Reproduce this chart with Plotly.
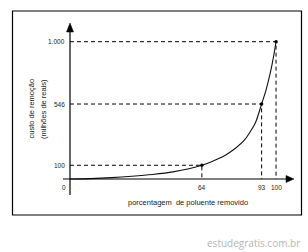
import plotly.graph_objects as go

# ---- data ----
pct = [0, 10, 20, 30, 40, 50, 64, 70, 75, 80, 85, 90, 93, 95, 97, 98, 99, 100]
cost = [0, 3, 10, 20, 33, 52, 100, 135, 170, 220, 290, 410, 546, 640, 760, 830, 910, 1000]
mark_x = [64, 93, 100]
mark_y = [100, 546, 1000]
x_tick_labels = ["64", "93", "100"]
y_tick_labels = ["100", "546", "1.000"]
x_title = "porcentagem  de poluente removido"
y_title = ["custo de remoção", "(milhões de reais)"]
watermark = "estudegratis.com.br"

W, H = 308, 252
def px(x): return x / W
def py(y): return 1 - y / H

FONT = "Liberation Sans"
TXT = "#1a1a1a"

fig = go.Figure()

# dashed guide lines
for xv, yv in zip(mark_x, mark_y):
    fig.add_trace(go.Scatter(x=[0, xv, xv], y=[yv, yv, 0], mode="lines",
                             line=dict(color="black", width=1, dash="4px,3px"),
                             hoverinfo="skip", showlegend=False))

# curve
fig.add_trace(go.Scatter(x=pct, y=cost, mode="lines",
                         line=dict(color="#111111", width=1.1, shape="spline", smoothing=0.6),
                         showlegend=False))
# marked points
fig.add_trace(go.Scatter(x=mark_x, y=mark_y, mode="markers",
                         marker=dict(color="black", size=3.5), showlegend=False))

shapes = []
# outer frame
shapes.append(dict(type="rect", xref="paper", yref="paper", x0=px(12.5), x1=px(301.5),
                   y0=py(215), y1=py(11), line=dict(color="black", width=1.2)))
# axes lines
shapes.append(dict(type="line", xref="paper", yref="paper", x0=px(70), x1=px(70),
                   y0=py(195), y1=py(30), line=dict(color="black", width=1.2)))
shapes.append(dict(type="line", xref="paper", yref="paper", x0=px(63), x1=px(287),
                   y0=py(179), y1=py(179), line=dict(color="black", width=1.2)))
# arrow heads
shapes.append(dict(type="path", xref="paper", yref="paper",
                   path=f"M {px(70)} {py(23)} L {px(66.5)} {py(32)} L {px(73.5)} {py(32)} Z",
                   fillcolor="black", line=dict(color="black", width=0.5)))
shapes.append(dict(type="path", xref="paper", yref="paper",
                   path=f"M {px(294)} {py(179)} L {px(286)} {py(175.5)} L {px(286)} {py(182.5)} Z",
                   fillcolor="black", line=dict(color="black", width=0.5)))

ann = []
# y tick labels
for v, t in zip(mark_y, y_tick_labels):
    ann.append(dict(x=px(66.5), y=v, xref="paper", yref="y", text=t, showarrow=False,
                    xanchor="right", yanchor="middle", font=dict(family=FONT, size=6.5, color=TXT)))
# origin label
ann.append(dict(x=px(63.5), y=py(187), xref="paper", yref="paper", text="0", showarrow=False,
                xanchor="center", yanchor="middle", font=dict(family=FONT, size=6.5, color=TXT)))
# x tick labels
for v, t in zip(mark_x, x_tick_labels):
    ann.append(dict(x=v, y=py(187.5), xref="x", yref="paper", text=t, showarrow=False,
                    xanchor="center", yanchor="middle", font=dict(family=FONT, size=6.5, color=TXT)))
# axis titles
ann.append(dict(x=px(188), y=py(202.5), xref="paper", yref="paper", text=x_title, showarrow=False,
                xanchor="center", yanchor="middle", font=dict(family=FONT, size=7.5, color=TXT)))
for i, t in enumerate(y_title):
    ann.append(dict(x=px(30.5 + 12.5 * i), y=py(109), xref="paper", yref="paper", text=t,
                    showarrow=False, textangle=-90, xanchor="center", yanchor="middle",
                    font=dict(family=FONT, size=7.5, color=TXT)))
# watermark
ann.append(dict(x=px(302), y=py(243), xref="paper", yref="paper", text=watermark, showarrow=False,
                xanchor="right", yanchor="middle", font=dict(family="Open Sans", size=10, color="#b5b5b5")))

fig.update_layout(
    width=W, height=H, margin=dict(l=0, r=0, t=0, b=0),
    paper_bgcolor="white", plot_bgcolor="white",
    xaxis=dict(range=[-4.85, 109.2], domain=[60 / W, 295 / W], visible=False),
    yaxis=dict(range=[-153, 1158], domain=[1 - 200 / H, 1 - 20 / H], visible=False),
    shapes=shapes, annotations=ann, showlegend=False,
)

fig.write_html("out.html")
